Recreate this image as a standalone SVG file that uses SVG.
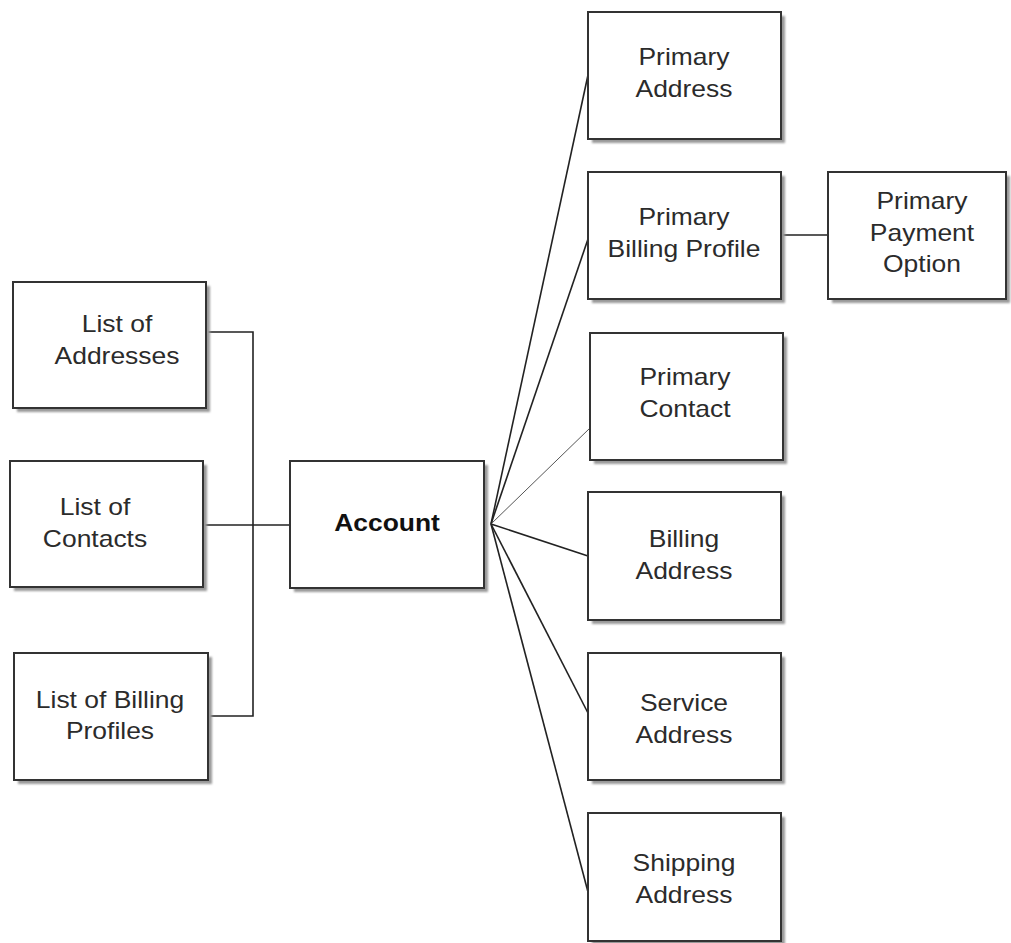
<svg xmlns="http://www.w3.org/2000/svg" width="1011" height="943" viewBox="0 0 1011 943">
<defs>
<filter id="sh" x="-10%" y="-10%" width="130%" height="130%"><feGaussianBlur stdDeviation="1"/></filter>
</defs>
<style>
.box{fill:#fff;stroke:#333;stroke-width:2}
.shadow{fill:#999;filter:url(#sh)}
.t{font-family:"Liberation Sans",Arial,sans-serif;font-size:23px;fill:#2b2b2b;text-anchor:middle}
.b{font-weight:bold;fill:#111}
.c{fill:none;stroke:#222;stroke-width:1.6}
.cl{fill:none;stroke:#555;stroke-width:1}
</style>
<rect width="1011" height="943" fill="#fff"/>
<g id="connectors">
<polyline class="c" points="206,332 253,332 253,716 208,716"/>
<line class="c" x1="203" y1="525" x2="290" y2="525"/>
<line class="c" x1="491" y1="524" x2="588" y2="75"/>
<line class="c" x1="491" y1="524" x2="588" y2="239"/>
<line class="cl" x1="491" y1="524" x2="590" y2="428"/>
<line class="c" x1="491" y1="524" x2="588" y2="556"/>
<line class="c" x1="491" y1="524" x2="588" y2="713"/>
<line class="c" x1="491" y1="524" x2="588" y2="892"/>
<line class="c" x1="781" y1="235" x2="828" y2="235"/>
</g>
<g id="list-addresses">
<rect class="shadow" x="17" y="286" width="193" height="126"/>
<rect class="box" x="13" y="282" width="193" height="126"/>
<text class="t" transform="matrix(1.15 0 0 1 117 0)" x="0" y="332">List of</text>
<text class="t" transform="matrix(1.15 0 0 1 117 0)" x="0" y="364">Addresses</text>
</g>
<g id="list-contacts">
<rect class="shadow" x="14" y="465" width="193" height="126"/>
<rect class="box" x="10" y="461" width="193" height="126"/>
<text class="t" transform="matrix(1.15 0 0 1 95 0)" x="0" y="515">List of</text>
<text class="t" transform="matrix(1.15 0 0 1 95 0)" x="0" y="547">Contacts</text>
</g>
<g id="list-billing-profiles">
<rect class="shadow" x="18" y="657" width="194" height="127"/>
<rect class="box" x="14" y="653" width="194" height="127"/>
<text class="t" transform="matrix(1.15 0 0 1 110 0)" x="0" y="708">List of Billing</text>
<text class="t" transform="matrix(1.15 0 0 1 110 0)" x="0" y="739">Profiles</text>
</g>
<g id="account">
<rect class="shadow" x="294" y="465" width="194" height="127"/>
<rect class="box" x="290" y="461" width="194" height="127"/>
<text class="t b" transform="matrix(1.15 0 0 1 387 0)" x="0" y="531">Account</text>
</g>
<g id="primary-address">
<rect class="shadow" x="592" y="16" width="193" height="127"/>
<rect class="box" x="588" y="12" width="193" height="127"/>
<text class="t" transform="matrix(1.15 0 0 1 684 0)" x="0" y="65">Primary</text>
<text class="t" transform="matrix(1.15 0 0 1 684 0)" x="0" y="97">Address</text>
</g>
<g id="primary-billing-profile">
<rect class="shadow" x="592" y="176" width="193" height="127"/>
<rect class="box" x="588" y="172" width="193" height="127"/>
<text class="t" transform="matrix(1.15 0 0 1 684 0)" x="0" y="225">Primary</text>
<text class="t" transform="matrix(1.15 0 0 1 684 0)" x="0" y="257">Billing Profile</text>
</g>
<g id="primary-payment-option">
<rect class="shadow" x="832" y="176" width="178" height="127"/>
<rect class="box" x="828" y="172" width="178" height="127"/>
<text class="t" transform="matrix(1.15 0 0 1 922 0)" x="0" y="209">Primary</text>
<text class="t" transform="matrix(1.15 0 0 1 922 0)" x="0" y="241">Payment</text>
<text class="t" transform="matrix(1.15 0 0 1 922 0)" x="0" y="272">Option</text>
</g>
<g id="primary-contact">
<rect class="shadow" x="594" y="337" width="193" height="127"/>
<rect class="box" x="590" y="333" width="193" height="127"/>
<text class="t" transform="matrix(1.15 0 0 1 685 0)" x="0" y="385">Primary</text>
<text class="t" transform="matrix(1.15 0 0 1 685 0)" x="0" y="417">Contact</text>
</g>
<g id="billing-address">
<rect class="shadow" x="592" y="496" width="193" height="128"/>
<rect class="box" x="588" y="492" width="193" height="128"/>
<text class="t" transform="matrix(1.15 0 0 1 684 0)" x="0" y="547">Billing</text>
<text class="t" transform="matrix(1.15 0 0 1 684 0)" x="0" y="579">Address</text>
</g>
<g id="service-address">
<rect class="shadow" x="592" y="657" width="193" height="127"/>
<rect class="box" x="588" y="653" width="193" height="127"/>
<text class="t" transform="matrix(1.15 0 0 1 684 0)" x="0" y="711">Service</text>
<text class="t" transform="matrix(1.15 0 0 1 684 0)" x="0" y="743">Address</text>
</g>
<g id="shipping-address">
<rect class="shadow" x="592" y="817" width="193" height="128"/>
<rect class="box" x="588" y="813" width="193" height="128"/>
<text class="t" transform="matrix(1.15 0 0 1 684 0)" x="0" y="871">Shipping</text>
<text class="t" transform="matrix(1.15 0 0 1 684 0)" x="0" y="903">Address</text>
</g>
</svg>
